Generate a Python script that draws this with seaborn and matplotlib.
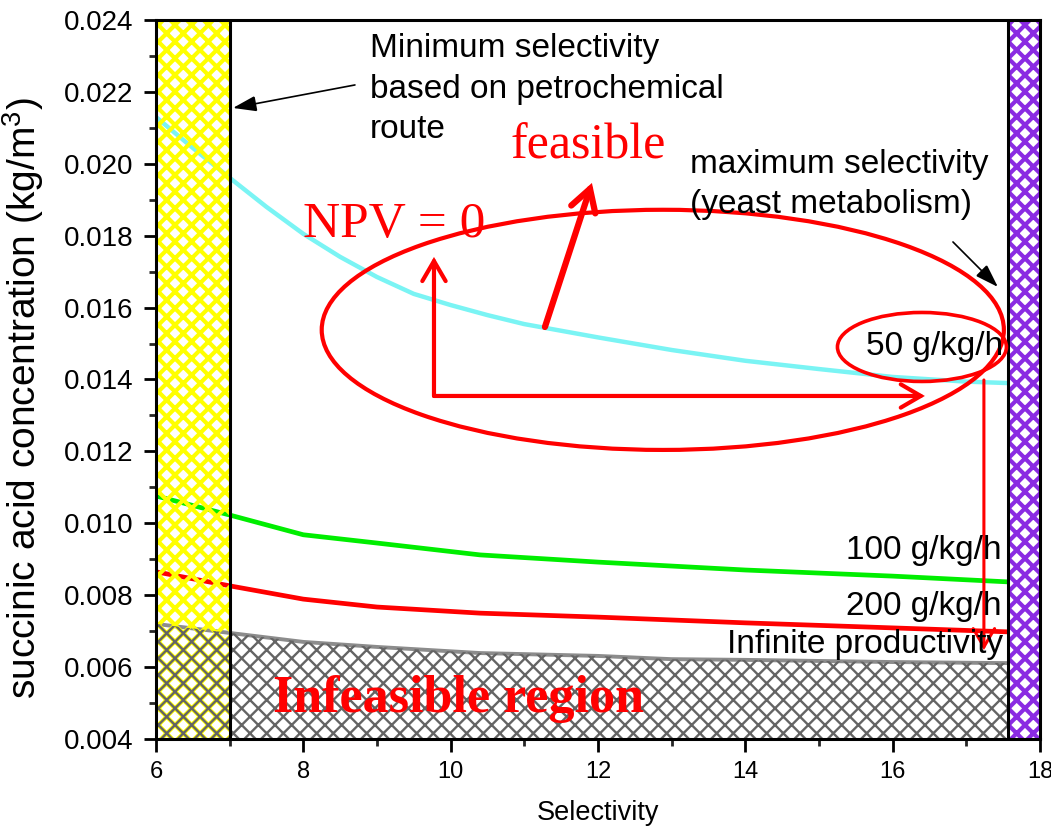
import numpy as np
import pandas as pd
import matplotlib
matplotlib.use("Agg")
import matplotlib.pyplot as plt
from matplotlib.patches import Ellipse
from matplotlib.ticker import MultipleLocator, FormatStrFormatter
import seaborn as sns

# ---- data -------------------------------------------------------------
selectivity = [6.0, 7.0, 8.0, 9.0, 10.4, 12.0, 13.0, 14.0, 16.0, 17.56]
conc_100 = [0.01076, 0.01023, 0.00968, 0.00945, 0.00912, 0.00892, 0.00881, 0.00870, 0.00853, 0.00837]
conc_200 = [0.00865, 0.00826, 0.00789, 0.00767, 0.00750, 0.00739, 0.00731, 0.00723, 0.00709, 0.00698]
conc_inf = [0.00720, 0.00695, 0.00670, 0.00656, 0.00639, 0.00631, 0.00622, 0.00620, 0.00614, 0.00611]
# the 50 g/kg/h curve is sampled more finely
selectivity_50 = [6.0, 6.5, 7.0, 7.5, 8.0, 8.5, 9.0, 9.5, 10.0, 10.5, 11.0, 12.0,
                  13.0, 14.0, 15.0, 16.0, 17.0, 17.56]
conc_50 = [0.02130, 0.02044, 0.01961, 0.01880, 0.01805, 0.01741, 0.01685, 0.01638,
           0.01607, 0.01579, 0.01554, 0.01517, 0.01482, 0.01452, 0.01429, 0.01407,
           0.01394, 0.01390]
series_names = ["50 g/kg/h", "100 g/kg/h", "200 g/kg/h", "Infinite productivity"]
series_colors = ["#7af4f4", "#00ee00", "#ff0000", "#8c8c8c"]
min_selectivity = 7.0     # petrochemical route
max_selectivity = 17.56   # yeast metabolism
x_range = (6, 18)
y_range = (0.004, 0.024)

# ---- style ------------------------------------------------------------
sns.set_theme(style="ticks")
plt.rcParams["font.family"] = ["Liberation Sans", "DejaVu Sans"]
plt.rcParams["hatch.linewidth"] = 2.4
plt.rcParams["axes.linewidth"] = 2.2
plt.rcParams["mathtext.default"] = "regular"

fig = plt.figure(figsize=(10.51, 8.35), dpi=100)
ax = fig.add_axes([0.1484, 0.1150, 0.8411, 0.8611])


def hatch_lw(artist, lw):
    if hasattr(artist, "set_hatch_linewidth"):
        artist.set_hatch_linewidth(lw)


# ---- curves -----------------------------------------------------------
curves = pd.DataFrame({
    "Selectivity": selectivity_50 + selectivity * 3,
    "conc": conc_50 + conc_100 + conc_200 + conc_inf,
    "series": [series_names[0]] * len(selectivity_50)
              + list(np.repeat(series_names[1:], len(selectivity))),
})
sns.lineplot(data=curves, x="Selectivity", y="conc", hue="series",
             hue_order=series_names, palette=dict(zip(series_names, series_colors)),
             linewidth=3.2, legend=False, ax=ax, zorder=2)
for ln, lw in zip(ax.lines, [3.2, 3.4, 3.4, 2.8]):
    ln.set_linewidth(lw)
    ln.set_solid_capstyle("butt")

# infeasible region under the infinite-productivity curve
infeasible = ax.fill_between(selectivity, y_range[0], conc_inf, facecolor="none",
                             edgecolor="#646464", hatch="xx", linewidth=0, zorder=2.7)
hatch_lw(infeasible, 1.7)

# selectivity bounds
yellow = ax.axvspan(x_range[0], min_selectivity, facecolor="none", edgecolor="#ffff00",
                    hatch="xx", linewidth=0, zorder=2.5)
hatch_lw(yellow, 3.0)
purple = ax.axvspan(max_selectivity, x_range[1], facecolor="white", edgecolor="#8a2be2",
                    hatch="xx", linewidth=0, zorder=3)
hatch_lw(purple, 3.0)
ax.axvline(min_selectivity, color="black", lw=2.2, zorder=4)
ax.axvline(max_selectivity, color="black", lw=2.2, zorder=4)

# ---- axes -------------------------------------------------------------
ax.set_xlim(*x_range)
ax.set_ylim(*y_range)
ax.xaxis.set_major_locator(MultipleLocator(2))
ax.xaxis.set_minor_locator(MultipleLocator(1))
ax.yaxis.set_major_locator(MultipleLocator(0.002))
ax.yaxis.set_minor_locator(MultipleLocator(0.001))
ax.yaxis.set_major_formatter(FormatStrFormatter("%.3f"))
ax.tick_params(which="major", direction="out", length=9, width=2, pad=7, colors="black")
ax.tick_params(which="minor", direction="out", length=5, width=2)
ax.tick_params(axis="y", which="major", labelsize=20)
ax.tick_params(axis="x", which="major", labelsize=17)
for sp in ax.spines.values():
    sp.set_visible(True)
    sp.set_color("black")
    sp.set_linewidth(2.2)
    sp.set_zorder(6)
ax.set_xlabel("Selectivity", fontsize=19.5, labelpad=12, color="black")
ax.set_ylabel("succinic acid concentration (kg/m$^3$)", fontsize=28, color="black")
ax.yaxis.set_label_coords(-0.124, 0.474)

# ---- annotations ------------------------------------------------------
txt = dict(fontsize=24, color="black", va="baseline", zorder=7)
ax.text(8.905, 0.02297, "Minimum selectivity", **txt)
ax.text(8.905, 0.02183, "based on petrochemical", **txt)
ax.text(8.905, 0.02072, "route", **txt)
ax.text(13.25, 0.019744, "maximum selectivity", **txt)
ax.text(13.25, 0.018631, "(yeast metabolism)", **txt)
ax.text(17.497, 0.014681, "50 g/kg/h", ha="right", **txt)
ax.text(17.484, 0.009007, "100 g/kg/h", ha="right", **txt)
ax.text(17.484, 0.007449, "200 g/kg/h", ha="right", **txt)
ax.text(17.497, 0.006392, "Infinite productivity", ha="right", **txt)

serif = ["Liberation Serif", "DejaVu Serif"]
ax.text(10.81, 0.020133, "feasible", fontsize=36, color="red", family=serif,
        va="baseline", zorder=7)
ax.text(7.995, 0.017964, "NPV = 0", fontsize=37, color="red", family=serif,
        va="baseline", zorder=7)
ax.text(7.588, 0.004751, "Infeasible region", fontsize=37.5, color="red", family=serif,
        fontweight="bold", va="baseline", zorder=7)

ax.add_patch(Ellipse((12.88, 0.01538), 9.26, 0.00668, fill=False, edgecolor="red",
                     lw=3.0, zorder=5))
ax.add_patch(Ellipse((16.398, 0.014904), 2.294, 0.001919, fill=False, edgecolor="red",
                     lw=2.6, zorder=5))


def arrow(tail, tip, color, lw, style, scale):
    ax.annotate("", xy=tip, xytext=tail, zorder=6,
                arrowprops=dict(arrowstyle=style, color=color, lw=lw,
                                shrinkA=0, shrinkB=0, mutation_scale=scale,
                                capstyle="round", joinstyle="miter"))


open_head = "->,head_length=0.6,head_width=0.35"
arrow((11.28, 0.015460), (11.918, 0.019466), "red", 4.5, open_head, 26)
arrow((9.774, 0.013541), (9.774, 0.017408), "red", 3.0, open_head, 24)
arrow((9.774, 0.013541), (16.438, 0.013541), "red", 3.0, open_head, 24)
arrow((17.239, 0.013986), (17.239, 0.006476), "red", 2.2, open_head, 22)

filled_head = "-|>,head_length=0.9,head_width=0.3"
arrow((8.701, 0.022192), (7.045, 0.021552), "black", 1.2, filled_head, 16)
arrow((16.819, 0.017825), (17.429, 0.016573), "black", 1.2, filled_head, 16)

fig.savefig("out.png", dpi=100)
